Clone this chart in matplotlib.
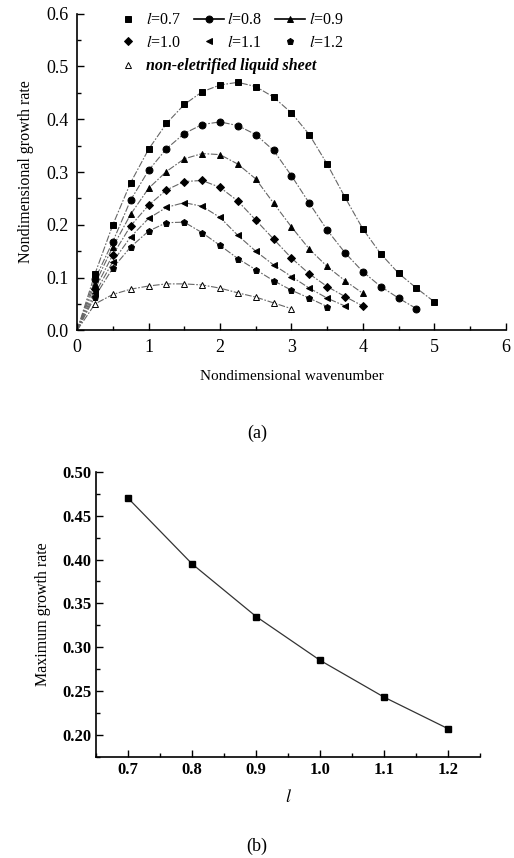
import numpy as np
import matplotlib
matplotlib.use("Agg")
import matplotlib.pyplot as plt
from matplotlib.lines import Line2D
from matplotlib.ticker import MultipleLocator

plt.rcParams['font.family'] = ['Liberation Serif', 'DejaVu Serif']
plt.rcParams['mathtext.fontset'] = 'stix'

# (a) growth rate vs wavenumber
k07 = [0.25, 0.5, 0.75, 1.0, 1.25, 1.5, 1.75, 2.0, 2.25, 2.5, 2.75, 3.0, 3.25, 3.5, 3.75, 4.0, 4.25, 4.5, 4.75, 5.0]
g07 = [0.107, 0.200, 0.280, 0.343, 0.392, 0.428, 0.452, 0.465, 0.470, 0.462, 0.442, 0.412, 0.371, 0.315, 0.252, 0.192, 0.145, 0.108, 0.080, 0.054]
k08 = k07[:19]
g08 = [0.097, 0.168, 0.247, 0.303, 0.344, 0.373, 0.390, 0.395, 0.388, 0.371, 0.341, 0.293, 0.241, 0.190, 0.147, 0.111, 0.083, 0.061, 0.041]
k09 = k07[:16]
g09 = [0.088, 0.158, 0.220, 0.269, 0.301, 0.325, 0.335, 0.333, 0.315, 0.287, 0.241, 0.196, 0.154, 0.121, 0.094, 0.070]
k10 = k07[:16]
g10 = [0.078, 0.143, 0.198, 0.237, 0.266, 0.282, 0.284, 0.271, 0.245, 0.209, 0.173, 0.137, 0.107, 0.083, 0.064, 0.046]
k11 = k07[:15]
g11 = [0.070, 0.130, 0.177, 0.212, 0.233, 0.242, 0.235, 0.214, 0.180, 0.150, 0.124, 0.102, 0.080, 0.061, 0.046]
k12 = k07[:14]
g12 = [0.064, 0.118, 0.158, 0.188, 0.204, 0.205, 0.185, 0.161, 0.136, 0.115, 0.094, 0.076, 0.061, 0.045]
k_ne = k07[:12]
g_ne = [0.050, 0.068, 0.078, 0.084, 0.088, 0.088, 0.086, 0.080, 0.071, 0.063, 0.052, 0.041]

# (b) maximum growth rate vs l
l_vals = [0.7, 0.8, 0.9, 1.0, 1.1, 1.2]
g_max = [0.470, 0.395, 0.335, 0.285, 0.243, 0.207]

fig = plt.figure(figsize=(5.14, 8.58), dpi=100)

# ---- panel (a)
ax1 = fig.add_axes([0.150, 0.615, 0.834, 0.369])
series = [
    (k07, g07, 's', 'black'),
    (k08, g08, 'o', 'black'),
    (k09, g09, '^', 'black'),
    (k10, g10, 'D', 'black'),
    (k11, g11, '<', 'black'),
    (k12, g12, 'p', 'black'),
    (k_ne, g_ne, '^', 'white'),
]
for x, y, m, fc in series:
    ax1.plot([0] + list(x), [0] + list(y), color='#666666', lw=0.8,
             linestyle=(0, (6, 1.5, 1.5, 1.5)), zorder=1)
    ms = 4.2 if m == 'D' else 5
    ax1.plot(x, y, linestyle='none', marker=m, ms=ms, mfc=fc, mec='black',
             mew=0.7, zorder=2)

ax1.set_xlim(0, 6)
ax1.set_ylim(0, 0.6)
ax1.xaxis.set_major_locator(MultipleLocator(1))
ax1.xaxis.set_minor_locator(MultipleLocator(0.5))
ax1.yaxis.set_major_locator(MultipleLocator(0.1))
ax1.yaxis.set_minor_locator(MultipleLocator(0.05))
ax1.yaxis.set_major_formatter(matplotlib.ticker.FormatStrFormatter('%.1f'))
ax1.tick_params(which='both', direction='in', labelsize=13, width=1, pad=6)
ax1.tick_params(which='major', length=5)
ax1.tick_params(which='minor', length=3)
ax1.spines['top'].set_visible(False)
ax1.spines['right'].set_visible(False)
ax1.spines['left'].set_linewidth(1.2)
ax1.spines['bottom'].set_linewidth(1.2)
ax1.set_xlabel('Nondimensional wavenumber', fontsize=11, labelpad=10)
ax1.set_ylabel('Nondimensional growth rate', fontsize=11.5, labelpad=9)

def handle(m, with_line, fc='black'):
    ms = 4.2 if m == 'D' else 5
    return Line2D([], [], color='black', lw=1.2 if with_line else 0,
                  marker=m, ms=ms, mfc=fc, mec='black', mew=0.7)

h = [handle('s', False), handle('D', False),
     handle('o', True), handle('<', False),
     handle('^', True), handle('p', False)]
lab = [r'$\it{l}$=0.7', r'$\it{l}$=1.0', r'$\it{l}$=0.8',
       r'$\it{l}$=1.1', r'$\it{l}$=0.9', r'$\it{l}$=1.2']
leg1 = ax1.legend(h, lab, ncol=3, loc='upper left', bbox_to_anchor=(0.049, 1.05),
                  frameon=False, fontsize=11.5, handlelength=1.9, handletextpad=0.2,
                  columnspacing=0.8, labelspacing=0.4)
ax1.add_artist(leg1)
ax1.legend([handle('^', False, 'white')], ['non-eletrified liquid sheet'],
           loc='upper left', bbox_to_anchor=(0.049, 0.905), frameon=False,
           prop={'size': 11.5, 'style': 'italic', 'weight': 'bold'},
           handlelength=1.9, handletextpad=0.2)

fig.text(0.5, 1 - 433 / 858, '(a)', ha='center', va='center', fontsize=13)

# ---- panel (b)
ax2 = fig.add_axes([0.187, 0.118, 0.747, 0.332])
ax2.plot(l_vals, g_max, color='#333333', lw=0.9, marker='s', ms=5,
         mfc='black', mec='black')
ax2.set_xlim(0.65, 1.25)
ax2.set_ylim(0.175, 0.50)
ax2.xaxis.set_major_locator(MultipleLocator(0.1))
ax2.xaxis.set_minor_locator(MultipleLocator(0.05))
ax2.yaxis.set_major_locator(MultipleLocator(0.05))
ax2.yaxis.set_minor_locator(MultipleLocator(0.025))
ax2.yaxis.set_major_formatter(matplotlib.ticker.FormatStrFormatter('%.2f'))
ax2.tick_params(which='both', direction='in', labelsize=12, width=1)
ax2.tick_params(which='major', length=5)
ax2.tick_params(which='minor', length=3)
for t in ax2.get_xticklabels() + ax2.get_yticklabels():
    t.set_fontweight('bold')
ax2.spines['top'].set_visible(False)
ax2.spines['right'].set_visible(False)
ax2.spines['left'].set_linewidth(1.2)
ax2.spines['bottom'].set_linewidth(1.2)
ax2.set_xlabel(r'$\it{l}$', fontsize=13, labelpad=8)
ax2.set_ylabel('Maximum growth rate', fontsize=11.5, labelpad=8)

fig.text(0.5, 1 - 846 / 858, '(b)', ha='center', va='center', fontsize=13)

fig.savefig('out.png', dpi=100)
